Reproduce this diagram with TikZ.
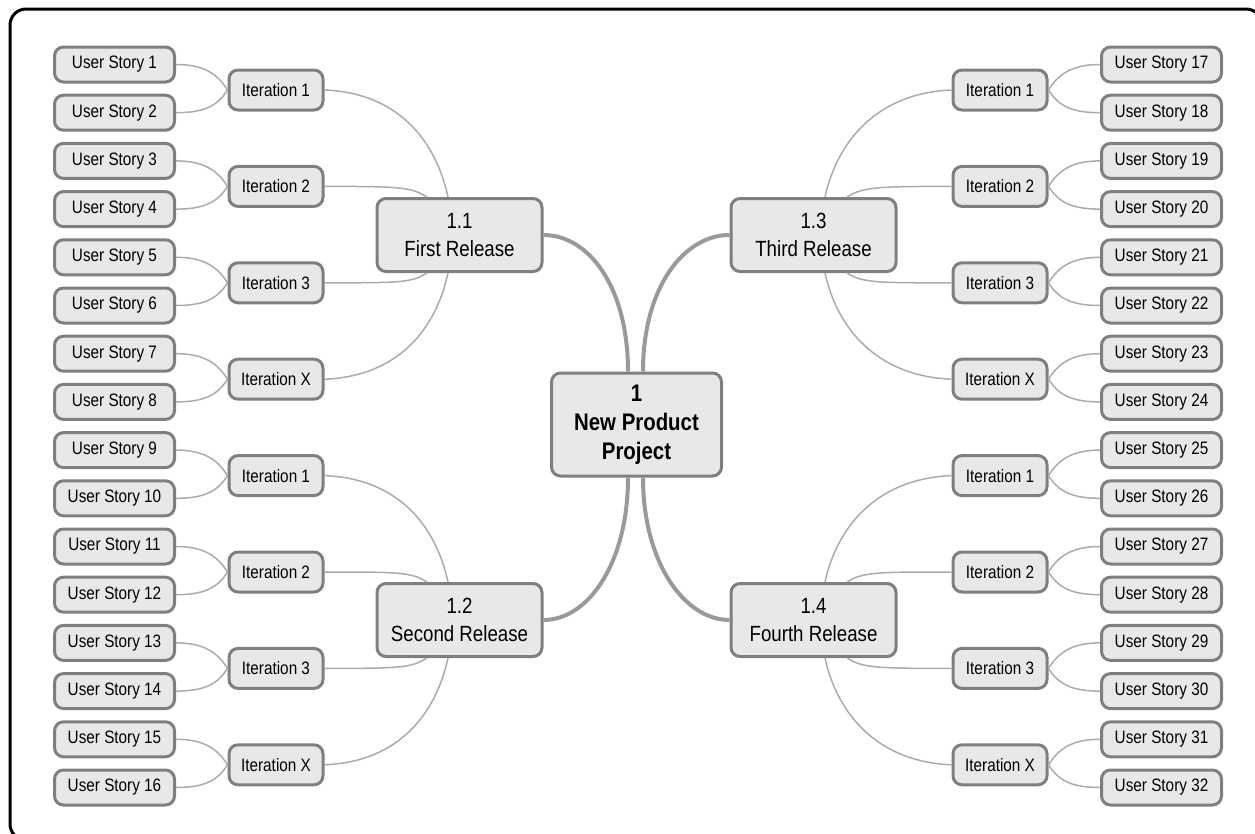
\documentclass[tikz,border=0pt]{standalone}
\usepackage{fontspec}
\setmainfont[FakeStretch=0.85]{Liberation Sans}
\usetikzlibrary{calc}
\definecolor{boxfill}{HTML}{E8E8E8}
\definecolor{boxline}{HTML}{7F7F7F}
\definecolor{thinline}{HTML}{ABABAB}
\definecolor{thickline}{HTML}{9A9A9A}
\tikzset{
  box/.style={draw=boxline, fill=boxfill, line width=3pt, rounded corners=9pt, align=center, inner sep=0pt},
  usbox/.style={box, minimum width=120pt, minimum height=35pt, font=\fontsize{18}{20}\selectfont},
  itbox/.style={box, minimum width=94pt, minimum height=40pt, font=\fontsize{18}{20}\selectfont},
  relbox/.style={box, minimum width=165pt, minimum height=73pt, font=\fontsize{22}{28}\selectfont},
  cbox/.style={box, minimum width=170pt, minimum height=103pt, font=\bfseries\fontsize{24}{29}\selectfont},
  thinc/.style={draw=thinline, line width=1.5pt},
  thickc/.style={draw=thickline, line width=4pt},
}
\begin{document}
\begin{tikzpicture}[x=1pt,y=-1pt]
\useasboundingbox (0,0) rectangle (1255,833);
\clip (0,0) rectangle (1255,833);
\draw[line width=3pt, rounded corners=16pt] (10,9) rectangle (1262,840);

% center
\node[cbox] (C) at (636.5,424.5) {1\\New Product\\Project};

% releases
\node[relbox] (R1) at (459.5,235) {1.1\\First Release};
\node[relbox] (R2) at (459.5,620) {1.2\\Second Release};
\node[relbox] (R3) at (813.5,235) {1.3\\Third Release};
\node[relbox] (R4) at (813.5,620) {1.4\\Fourth Release};

% user stories
\foreach \k in {0,...,15} {
  \pgfmathsetmacro\yy{64.5+48.2*\k}
  \pgfmathtruncatemacro\nl{\k+1}
  \pgfmathtruncatemacro\nr{\k+17}
  \node[usbox] (L\k) at (114.5,\yy) {User Story \nl};
  \node[usbox] (Q\k) at (1161.5,\yy) {User Story \nr};
}

% iterations
\foreach \j/\lab in {0/1,1/2,2/3,3/X,4/1,5/2,6/3,7/X} {
  \pgfmathsetmacro\yy{90+96.4*\j}
  \node[itbox] (LI\j) at (276,\yy) {Iteration \lab};
  \node[itbox] (RI\j) at (1000,\yy) {Iteration \lab};
}

% user story to iteration connectors
\foreach \j in {0,...,7} {
  \pgfmathtruncatemacro\ka{2*\j}
  \pgfmathtruncatemacro\kb{2*\j+1}
  \draw[thinc] (L\ka.east) .. controls +(28,0) and +(-10,-16) .. (LI\j.west);
  \draw[thinc] (L\kb.east) .. controls +(28,0) and +(-10,16) .. (LI\j.west);
  \draw[thinc] (RI\j.east) .. controls +(10,-16) and +(-28,0) .. (Q\ka.west);
  \draw[thinc] (RI\j.east) .. controls +(10,16) and +(-28,0) .. (Q\kb.west);
}

% iteration to release connectors
\foreach \r/\o in {1/0,2/4} {
  \pgfmathtruncatemacro\ja{\o}
  \pgfmathtruncatemacro\jb{\o+1}
  \pgfmathtruncatemacro\jc{\o+2}
  \pgfmathtruncatemacro\jd{\o+3}
  \coordinate (Ra\r) at ($(R\r.north)+(-11.5,0)$);
  \coordinate (Rb\r) at ($(R\r.north)+(-32.5,0)$);
  \coordinate (Rc\r) at ($(R\r.south)+(-32.5,0)$);
  \coordinate (Rd\r) at ($(R\r.south)+(-11.5,0)$);
  \draw[thinc] (LI\ja.east) .. controls +(75,3) and +(-12,-55) .. (Ra\r);
  \draw[thinc] (LI\jb.east) .. controls +(75,0) and +(-16,-10) .. (Rb\r);
  \draw[thinc] (LI\jc.east) .. controls +(75,0) and +(-16,10) .. (Rc\r);
  \draw[thinc] (LI\jd.east) .. controls +(75,-3) and +(-12,55) .. (Rd\r);
}
\foreach \r/\o in {3/0,4/4} {
  \pgfmathtruncatemacro\ja{\o}
  \pgfmathtruncatemacro\jb{\o+1}
  \pgfmathtruncatemacro\jc{\o+2}
  \pgfmathtruncatemacro\jd{\o+3}
  \coordinate (Ra\r) at ($(R\r.north)+(11.5,0)$);
  \coordinate (Rb\r) at ($(R\r.north)+(33.5,0)$);
  \coordinate (Rc\r) at ($(R\r.south)+(33.5,0)$);
  \coordinate (Rd\r) at ($(R\r.south)+(11.5,0)$);
  \draw[thinc] (Ra\r) .. controls +(12,-55) and +(-75,3) .. (RI\ja.west);
  \draw[thinc] (Rb\r) .. controls +(16,-10) and +(-75,0) .. (RI\jb.west);
  \draw[thinc] (Rc\r) .. controls +(16,10) and +(-75,0) .. (RI\jc.west);
  \draw[thinc] (Rd\r) .. controls +(12,55) and +(-75,-3) .. (RI\jd.west);
}

% release to center
\coordinate (Cnw) at ($(C.north)+(-8.5,0)$);
\coordinate (Cne) at ($(C.north)+(6.5,0)$);
\coordinate (Csw) at ($(C.south)+(-8.5,0)$);
\coordinate (Cse) at ($(C.south)+(6.5,0)$);
\draw[thickc] (R1.east) .. controls +(45,0) and +(0,-85) .. (Cnw);
\draw[thickc] (R3.west) .. controls +(-45,0) and +(0,-85) .. (Cne);
\draw[thickc] (R2.east) .. controls +(45,0) and +(0,85) .. (Csw);
\draw[thickc] (R4.west) .. controls +(-45,0) and +(0,85) .. (Cse);
\end{tikzpicture}
\end{document}
